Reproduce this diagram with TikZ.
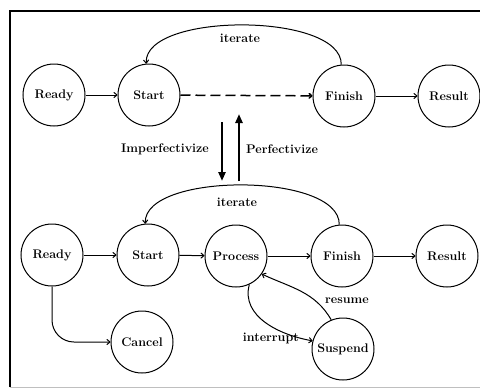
\documentclass[tikz,border=0pt]{standalone}
\usetikzlibrary{arrows.meta}
\begin{document}
\begin{tikzpicture}[x=1pt,y=-1pt,
  state/.style={draw,circle,line width=1pt,minimum size=62pt,inner sep=0pt,font=\fontsize{12.5}{14}\selectfont\bfseries},
  lbl/.style={font=\fontsize{12.5}{14}\selectfont\bfseries,inner sep=1pt},
  edge/.style={line width=1pt,-{To[length=4pt,width=6pt]}},
  big/.style={line width=2.4pt,-{Triangle[length=9pt,width=7pt]}}]
\useasboundingbox (0,0) rectangle (480,389);
\draw[line width=1.2pt] (10,387) -- (10,11) -- (482,11);
\draw[line width=0.6pt,black!25] (10,387) -- (482,387);
% top row
\node[state] (r1) at (54,95) {Ready};
\node[state] (s1) at (149,95) {Start};
\node[state] (f1) at (344,96) {Finish};
\node[state] (e1) at (449,96) {Result};
\draw[edge] (r1) -- (s1);
\draw[edge,line width=1.5pt,dash pattern=on 10pt off 5pt] (s1) -- (f1);
\draw[edge] (f1) -- (e1);
\draw[edge] (f1.95) .. controls (342,12) and (144,12) .. (s1.95);
\node[lbl] (it1) at (240,38) {iterate};
% aspect arrows
\coordinate (d1) at (222,122);
\coordinate (d2) at (222,181);
\coordinate (u1) at (239,181);
\coordinate (u2) at (239,114);
\draw[big] (d1) -- (d2);
\draw[big] (u1) -- (u2);
\node[lbl,anchor=east] (imp) at (210,149) {Imperfectivize};
\node[lbl,anchor=west] (perf) at (245,149) {Perfectivize};
% bottom row
\node[state] (r2) at (52,255) {Ready};
\node[state] (s2) at (148,255) {Start};
\node[state] (p2) at (236,256) {Process};
\node[state] (f2) at (342,256) {Finish};
\node[state] (e2) at (447,256) {Result};
\node[state] (c2) at (142,342) {Cancel};
\node[state] (su2) at (343,349) {Suspend};
\draw[edge] (r2) -- (s2);
\draw[edge] (s2) -- (p2);
\draw[edge] (p2) -- (f2);
\draw[edge] (f2) -- (e2);
\draw[edge] (f2.95) .. controls (340,172) and (144,172) .. (s2.95);
\node[lbl] (it2) at (237,202) {iterate};
\draw[edge,rounded corners=22pt] (r2.south) |- (c2.west);
\draw[edge] (p2.-65) to[out=-105,in=170] (su2.165);
\node[lbl,anchor=east] (intr) at (300,338) {interrupt};
\draw[edge] (su2.112) to[out=120,in=-25] (p2.-35);
\node[lbl] (res) at (347,301) {resume};
\end{tikzpicture}
\end{document}
